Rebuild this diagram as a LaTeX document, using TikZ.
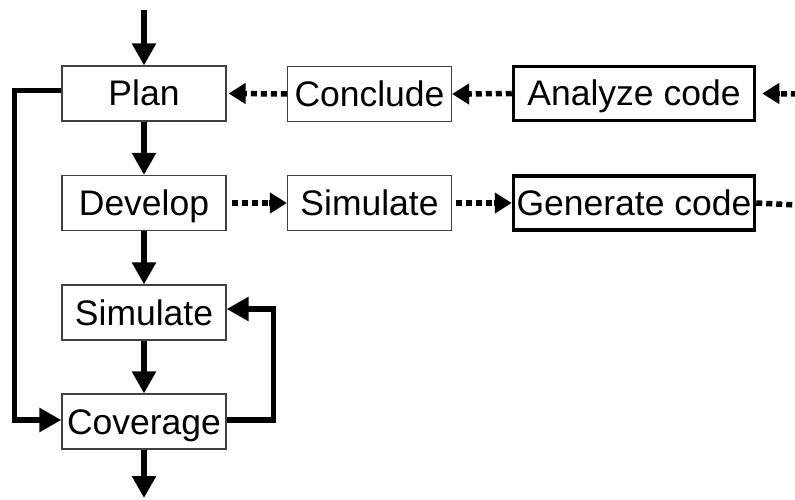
\documentclass[tikz,border=0pt]{standalone}
\usepackage{fontspec}
\setmainfont{Liberation Sans}
\usetikzlibrary{arrows.meta}
\begin{document}
\begin{tikzpicture}[x=1pt,y=-1pt,
  box/.style={draw=black!75, line width=1.2pt, minimum width=164pt, minimum height=55pt,
    inner sep=0pt, text height=25pt, text depth=0pt, font=\fontsize{35.5}{40}\selectfont},
  bigbox/.style={box, draw=black, line width=3.5pt, minimum width=241pt, minimum height=54pt},
  flow/.style={line width=5.5pt, -{Triangle[length=22pt,width=23pt]}},
  linkline/.style={line width=5.5pt, dash pattern=on 6pt off 4pt},
  link/.style={linkline, shorten >=12pt},
  linktip/.style={line width=5.5pt, -{Triangle[length=17pt,width=20pt]}},
]
\useasboundingbox (0,0) rectangle (795,500);

% main verification loop
\node[box] (plan)     at (144,93.5)  {Plan};
\node[box] (develop)  at (144,203)   {Develop};
\node[box] (simL)     at (144,312.5) {Simulate};
\node[box] (coverage) at (144,421.5) {Coverage};

% side flow
\node[box] (conclude) at (369.5,94) {Conclude};
\node[box] (simM)     at (369.5,203) {Simulate};
\node[bigbox] (analyze)  at (634,93.5) {Analyze code};
\node[bigbox] (generate) at (634,203)  {Generate code};

% free ends
\coordinate (top)    at (144,10);
\coordinate (bottom) at (144,498);
\coordinate (inR)    at (797,94);
\coordinate (outR)   at (797,205);

% solid flow
\draw[flow] (top) -- (plan);
\draw[flow] (plan) -- (develop);
\draw[flow] (develop) -- (simL);
\draw[flow] (simL) -- (coverage);
\draw[flow] (coverage) -- (bottom);
\draw[flow] ([yshift=3pt]plan.west) -- ++(-47,0) |- ([yshift=1.5pt]coverage.west);
\draw[flow] ([yshift=1.5pt]coverage.east) -- ++(47,0) |- ([yshift=3.5pt]simL.east);

% dotted flow: dotted shaft plus a solid head at its end
\coordinate (tA) at ([xshift=6pt]analyze.east);
\coordinate (tC) at (conclude.east);
\coordinate (tP) at ([xshift=2pt]plan.east);
\coordinate (tS) at (simM.west);
\coordinate (tG) at (generate.west);
\draw[link] (inR) -- (tA);
\draw[linktip] ([xshift=18pt]tA) -- (tA);
\draw[link] (analyze.west) -- (tC);
\draw[linktip] ([xshift=18pt]tC) -- (tC);
\draw[link] (conclude.west) -- (tP);
\draw[linktip] ([xshift=18pt]tP) -- (tP);
\draw[link] ([xshift=5pt]develop.east) -- (tS);
\draw[linktip] ([xshift=-18pt]tS) -- (tS);
\draw[link] ([xshift=4pt]simM.east) -- (tG);
\draw[linktip] ([xshift=-18pt]tG) -- (tG);
\draw[linkline] (generate.east) -- (outR);
\end{tikzpicture}
\end{document}
